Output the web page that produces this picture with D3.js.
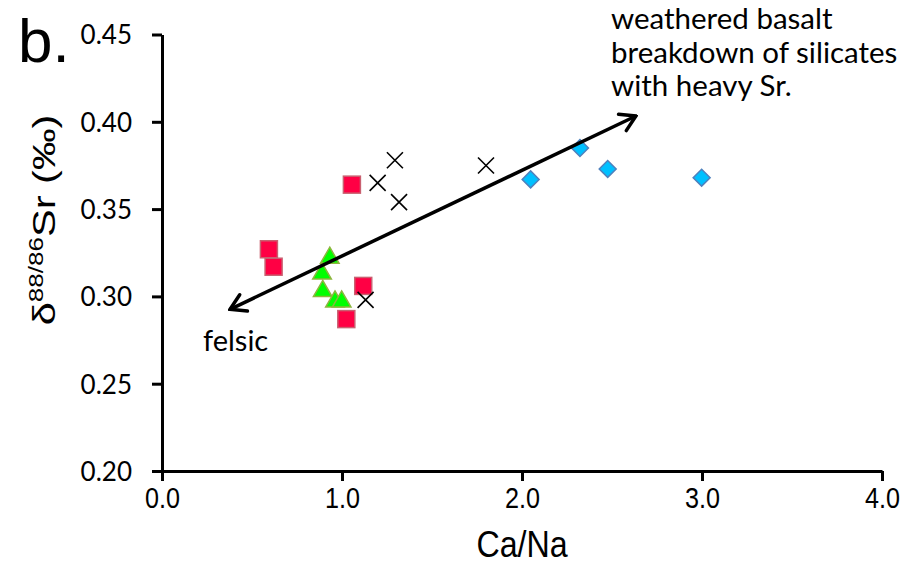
<!DOCTYPE html>
<html>
<head>
<meta charset="utf-8">
<script src="https://cdn.jsdelivr.net/npm/d3@7"></script>
<style>
  html, body { margin: 0; padding: 0; background: #fff; }
  svg { display: block; }
</style>
</head>
<body>
<svg id="chart" width="907" height="566"></svg>
<script>
// Ca/Na vs δ88/86Sr, grouped by sample type
const squaresX = [1.055, 0.594, 0.62, 1.118, 1.024];
const squaresY = [0.364, 0.327, 0.317, 0.306, 0.287];

const trianglesX = [0.932, 0.889, 0.893, 0.961, 0.998];
const trianglesY = [0.322, 0.313, 0.303, 0.297, 0.297];

const crossesX = [1.294, 1.198, 1.317, 1.131, 1.80];
const crossesY = [0.378, 0.365, 0.354, 0.298, 0.375];

const diamondsX = [2.048, 2.322, 2.476, 2.998];
const diamondsY = [0.367, 0.385, 0.373, 0.368];

const xTicks = [0, 1, 2, 3, 4];
const yTicks = [0.20, 0.25, 0.30, 0.35, 0.40, 0.45];

// trend arrow end points (data units)
const arrowX = [0.378, 2.633];
const arrowY = [0.2926, 0.4033];

const svg = d3.select("#chart");
const x = d3.scaleLinear().domain([0, 4]).range([162, 882]);
const y = d3.scaleLinear().domain([0.20, 0.45]).range([471, 34.5]);

// axes
const xAxis = d3.axisBottom(x).tickValues(xTicks).tickFormat(d3.format(".1f"))
  .tickSizeInner(10).tickSizeOuter(0).tickPadding(6);
const yAxis = d3.axisLeft(y).tickValues(yTicks).tickFormat(d3.format(".2f"))
  .tickSizeInner(10).tickSizeOuter(0).tickPadding(20);

const gx = svg.append("g").attr("transform", "translate(0,471)").call(xAxis);
const gy = svg.append("g").attr("transform", "translate(162,0)").call(yAxis);

[gx, gy].forEach(g => {
  g.select(".domain").attr("stroke", "#000").attr("stroke-width", 3);
  g.selectAll(".tick line").attr("stroke", "#000").attr("stroke-width", 3);
});
// condensed numerals on the x axis
gx.selectAll(".tick text")
  .attr("font-family", "'Liberation Sans', Arial, sans-serif")
  .attr("font-size", 30).attr("fill", "#000")
  .attr("transform", "scale(0.84,1)");
gy.selectAll(".tick text")
  .attr("font-family", "Lato, 'Open Sans', sans-serif")
  .attr("font-size", 26).attr("fill", "#000").attr("dy", "0.36em");

// axis titles and panel letter
svg.append("text")
  .attr("transform", "translate(522,557) scale(0.87,1)")
  .attr("text-anchor", "middle")
  .attr("font-family", "'Liberation Sans', Arial, sans-serif")
  .attr("font-size", 37).text("Ca/Na");

const yl = svg.append("text")
  .attr("transform", "translate(55,220) rotate(-90) scale(1.3,1)")
  .attr("text-anchor", "middle")
  .attr("font-family", "'Liberation Sans', Arial, sans-serif")
  .attr("font-size", 32);
yl.append("tspan").text("δ");
yl.append("tspan").attr("font-size", 20).attr("dy", -12).text("88/86");
yl.append("tspan").attr("dy", 12).text("Sr (‰)");

svg.append("text").attr("x", 18).attr("y", 62)
  .attr("font-family", "'Liberation Sans', Arial, sans-serif")
  .attr("font-size", 62).text("b.");

// markers
const sym = d3.symbol();
svg.append("g").selectAll("path").data(trianglesX.map((v, i) => [v, trianglesY[i]]))
  .join("path")
  .attr("transform", d => `translate(${x(d[0])},${y(d[1])})`)
  .attr("d", sym.type(d3.symbolTriangle).size(150)())
  .attr("fill", "#00ff00").attr("stroke", "#8db63e").attr("stroke-width", 1.5);

svg.append("g").selectAll("rect").data(squaresX.map((v, i) => [v, squaresY[i]]))
  .join("rect")
  .attr("x", d => x(d[0]) - 8.5).attr("y", d => y(d[1]) - 8.5)
  .attr("width", 17).attr("height", 17)
  .attr("fill", "#ff0044").attr("stroke", "#c96070").attr("stroke-width", 1.5);

svg.append("g").selectAll("path").data(diamondsX.map((v, i) => [v, diamondsY[i]]))
  .join("path")
  .attr("transform", d => `translate(${x(d[0])},${y(d[1])}) rotate(45)`)
  .attr("d", "M-6,-6H6V6H-6Z")
  .attr("fill", "#00c0ff").attr("stroke", "#4f81bd").attr("stroke-width", 1.5);

svg.append("g").selectAll("path").data(crossesX.map((v, i) => [v, crossesY[i]]))
  .join("path")
  .attr("transform", d => `translate(${x(d[0])},${y(d[1])})`)
  .attr("d", "M-8,-8L8,8M-8,8L8,-8")
  .attr("fill", "none").attr("stroke", "#000").attr("stroke-width", 1.6);

// double-headed trend arrow with open heads
const defs = svg.append("defs");
defs.append("marker").attr("id", "head").attr("viewBox", "-18 -12 20 24")
  .attr("refX", 0).attr("refY", 0).attr("markerWidth", 20).attr("markerHeight", 24)
  .attr("markerUnits", "userSpaceOnUse").attr("orient", "auto-start-reverse")
  .append("path").attr("d", "M-15,-9L0,0L-15,9")
  .attr("fill", "none").attr("stroke", "#000").attr("stroke-width", 3.5)
  .attr("stroke-linecap", "round").attr("stroke-linejoin", "miter");

svg.append("line")
  .attr("x1", x(arrowX[0])).attr("y1", y(arrowY[0]))
  .attr("x2", x(arrowX[1])).attr("y2", y(arrowY[1]))
  .attr("stroke", "#000").attr("stroke-width", 3.5)
  .attr("marker-start", "url(#head)").attr("marker-end", "url(#head)");

// annotations
const noteFont = "Lato, 'Open Sans', sans-serif";
svg.append("text").attr("x", 203).attr("y", 351)
  .attr("font-family", noteFont).attr("font-size", 29).text("felsic");
const lines = ["weathered basalt", "breakdown of silicates", "with heavy Sr."];
svg.append("g").selectAll("text").data(lines).join("text")
  .attr("x", 611).attr("y", (d, i) => 29 + i * 33.5)
  .attr("font-family", noteFont).attr("font-size", 29.5).text(d => d);
</script>
</body>
</html>
